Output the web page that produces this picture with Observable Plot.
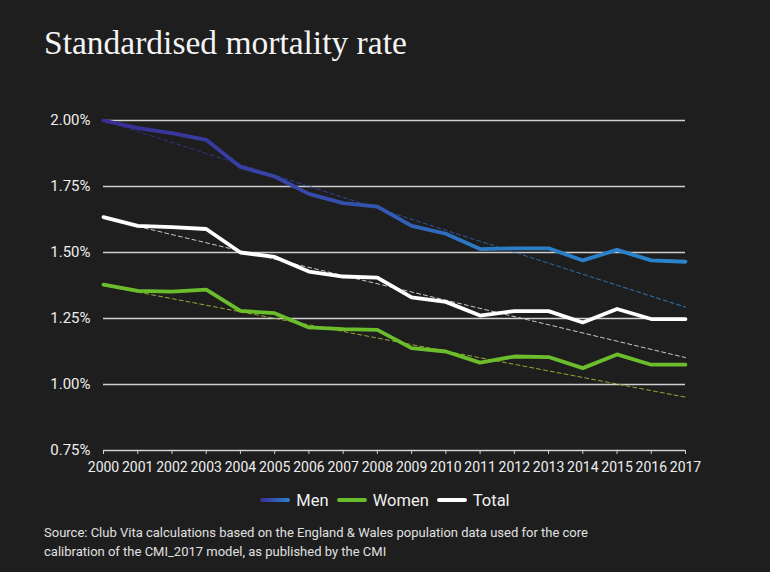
<!DOCTYPE html>
<html>
<head>
<meta charset="utf-8">
<script src="https://cdn.jsdelivr.net/npm/d3@7"></script>
<script src="https://cdn.jsdelivr.net/npm/@observablehq/plot@0.6"></script>
<style>
  html, body { margin: 0; padding: 0; background: #1e1e1e; }
  body { width: 770px; height: 572px; overflow: hidden; font-family: Roboto, "Open Sans", sans-serif; color: #eee; }
  #title { height: 80px; box-sizing: border-box; padding: 25px 0 0 44px; font-family: "Liberation Serif", "DejaVu Serif", serif; font-size: 33.5px; color: #f4f4f4; line-height: 36px; }
  #chart svg { display: block; }
  #legend { display: flex; justify-content: center; align-items: center; height: 24px; margin-top: 8px; font-size: 16.5px; color: #f0f0f0; }
  .item { display: flex; align-items: center; margin: 0 4px; }
  .sw { width: 30px; height: 4px; border-radius: 2px; margin-right: 6px; }
  #source { padding: 11px 0 0 44px; font-size: 13px; line-height: 19px; color: #e0e0e0; }
</style>
</head>
<body>
<div id="title">Standardised mortality rate</div>
<div id="chart"></div>
<div id="legend"></div>
<div id="source">Source: Club Vita calculations based on the England &amp; Wales population data used for the core<br>calibration of the CMI_2017 model, as published by the CMI</div>
<script>
const years = [2000,2001,2002,2003,2004,2005,2006,2007,2008,2009,2010,2011,2012,2013,2014,2015,2016,2017];
const men   = [2.000,1.971,1.952,1.927,1.824,1.788,1.722,1.687,1.674,1.601,1.571,1.513,1.516,1.516,1.470,1.510,1.470,1.465];
const women = [1.378,1.355,1.352,1.359,1.279,1.270,1.216,1.210,1.207,1.138,1.125,1.083,1.106,1.104,1.062,1.114,1.075,1.075];
const total = [1.634,1.601,1.596,1.589,1.500,1.483,1.428,1.409,1.405,1.330,1.313,1.261,1.278,1.278,1.235,1.286,1.248,1.248];
const trendYears = [2000, 2017];
const menTrend   = [2.000, 1.293];
const womenTrend = [1.375, 0.952];
const totalTrend = [1.630, 1.102];
const yTicks = [0.75, 1.00, 1.25, 1.50, 1.75, 2.00];
const seriesNames = ["Men", "Women", "Total"];

const toRows = (xs, ys) => xs.map((x, i) => ({x, y: ys[i]}));
const menRows = toRows(years, men), womenRows = toRows(years, women), totalRows = toRows(years, total);

const plot = Plot.plot({
  width: 770,
  height: 400,
  marginTop: 40,
  marginLeft: 103,
  marginRight: 85,
  marginBottom: 30,
  style: { background: "transparent", color: "#eee", fontFamily: "Roboto, sans-serif", fontSize: "14px" },
  x: { domain: [2000, 2017], label: null },
  y: { domain: [0.75, 2.0], label: null },
  marks: [
    Plot.ruleY(yTicks, { stroke: "#d0d0d0", strokeWidth: 1.3, strokeOpacity: 1 }),
    Plot.axisX({ ticks: years, tickFormat: d => String(d), tickSize: 4, tickPadding: 8, stroke: "#d0d0d0", fill: "#eee", fontSize: 14 }),
    Plot.axisY({ ticks: yTicks, tickFormat: d => d.toFixed(2) + "%", tickSize: 0, tickPadding: 13, fill: "#eee", fontSize: 15 }),
    Plot.line(toRows(trendYears, menTrend), { x: "x", y: "y", stroke: "url(#menTrendGrad)", strokeWidth: 1, strokeDasharray: "4,3" }),
    Plot.line(toRows(trendYears, totalTrend), { x: "x", y: "y", stroke: "#c8c8c8", strokeWidth: 1, strokeDasharray: "4,3" }),
    Plot.line(toRows(trendYears, womenTrend), { x: "x", y: "y", stroke: "#9aa634", strokeWidth: 1, strokeDasharray: "4,3" }),
    Plot.line(menRows, { x: "x", y: "y", stroke: "url(#menGrad)", strokeWidth: 3.8 }),
    Plot.line(womenRows, { x: "x", y: "y", stroke: "#6cbd2b", strokeWidth: 3.8 }),
    Plot.line(totalRows, { x: "x", y: "y", stroke: "#ffffff", strokeWidth: 3.8 })
  ]
});

// gradient defs
const ns = "http://www.w3.org/2000/svg";
const defs = document.createElementNS(ns, "defs");
function grad(id, stops) {
  const g = document.createElementNS(ns, "linearGradient");
  g.setAttribute("id", id);
  g.setAttribute("gradientUnits", "userSpaceOnUse");
  g.setAttribute("x1", 103); g.setAttribute("x2", 685);
  g.setAttribute("y1", 0); g.setAttribute("y2", 0);
  stops.forEach(([o, c]) => {
    const s = document.createElementNS(ns, "stop");
    s.setAttribute("offset", o); s.setAttribute("stop-color", c);
    g.appendChild(s);
  });
  defs.appendChild(g);
}
grad("menGrad", [[0, "#3a2c96"], [0.45, "#3452b0"], [0.65, "#2b7cc5"], [1, "#2a84cc"]]);
grad("menTrendGrad", [[0, "#2e2a80"], [0.5, "#2e4c98"], [1, "#2a7fc2"]]);
plot.insertBefore(defs, plot.firstChild);
document.getElementById("chart").appendChild(plot);

// legend
const legendColors = { Men: "linear-gradient(to right, #3a2c96, #2a84cc)", Women: "#6cbd2b", Total: "#ffffff" };
const legend = document.getElementById("legend");
seriesNames.forEach(name => {
  const item = document.createElement("div");
  item.className = "item";
  const sw = document.createElement("div");
  sw.className = "sw";
  sw.style.background = legendColors[name];
  const lab = document.createElement("span");
  lab.textContent = name;
  item.appendChild(sw); item.appendChild(lab);
  legend.appendChild(item);
});
</script>
</body>
</html>
